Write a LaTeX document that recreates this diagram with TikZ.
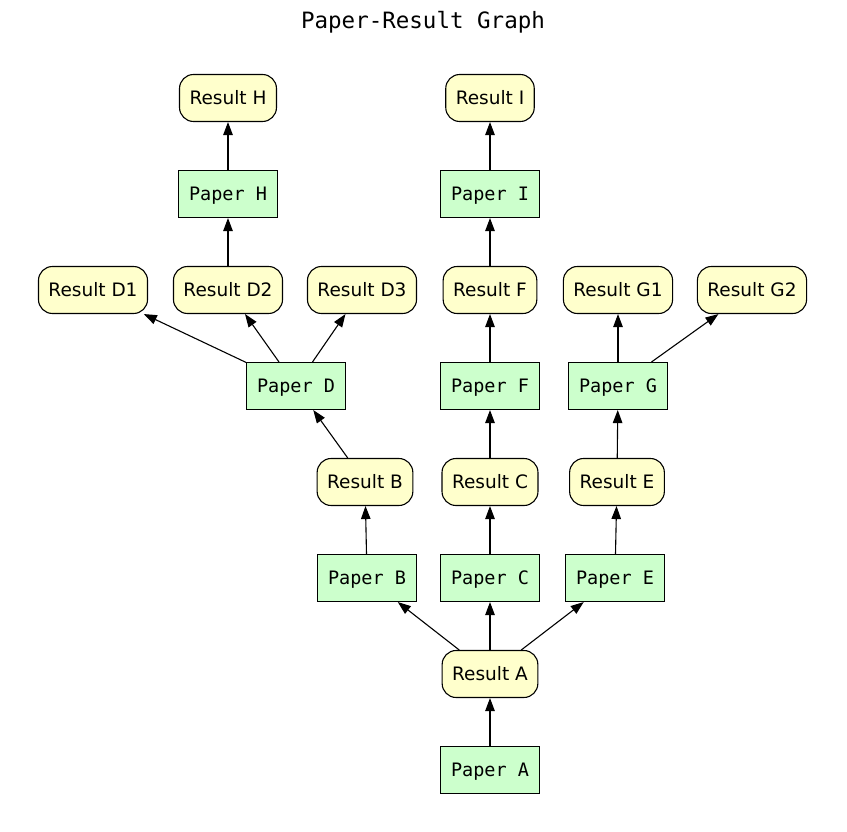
\documentclass[tikz,border=0pt]{standalone}
\usepackage{fontspec}
\setmainfont{DejaVu Sans}
\setmonofont{DejaVu Sans Mono}
\usetikzlibrary{arrows.meta}
\definecolor{resultfill}{HTML}{FFFFCC}
\definecolor{paperfill}{HTML}{CCFFCC}

\begin{document}
\begin{tikzpicture}[x=1pt,y=-1pt,
    result/.style={draw, line width=1.1pt, fill=resultfill, rounded corners=14pt, minimum height=47pt, inner xsep=10pt, font=\fontsize{18.5}{20}\selectfont},
    paper/.style={draw, line width=1.1pt, fill=paperfill, minimum height=47pt, minimum width=99pt, inner xsep=10pt, text depth=0pt, font=\ttfamily\fontsize{18.5}{20}\selectfont},
    link/.style={-{Triangle[length=13pt,width=9.5pt]}, line width=1.1pt}]
            \useasboundingbox (0,0) rectangle (847,832);
            \node[font=\ttfamily\fontsize{22.5}{24}\selectfont] (title) at (423,22) {Paper-Result Graph};
            % results
            \node[result] (rH) at (228,98) {Result H};
            \node[result] (rI) at (490,98) {Result I};
            \node[result] (rD1) at (93,290) {Result D1};
            \node[result] (rD2) at (228,290) {Result D2};
            \node[result] (rD3) at (362,290) {Result D3};
            \node[result] (rF) at (490,290) {Result F};
            \node[result] (rG1) at (618,290) {Result G1};
            \node[result] (rG2) at (752,290) {Result G2};
            \node[result] (rB) at (365,482) {Result B};
            \node[result] (rC) at (490,482) {Result C};
            \node[result] (rE) at (617,482) {Result E};
            \node[result] (rA) at (490,674) {Result A};
            % papers
            \node[paper] (pH) at (228,194) {Paper H};
            \node[paper] (pI) at (490,194) {Paper I};
            \node[paper] (pD) at (296,386) {Paper D};
            \node[paper] (pF) at (490,386) {Paper F};
            \node[paper] (pG) at (618,386) {Paper G};
            \node[paper] (pB) at (367,578) {Paper B};
            \node[paper] (pC) at (490,578) {Paper C};
            \node[paper] (pE) at (615,578) {Paper E};
            \node[paper] (pA) at (490,770) {Paper A};
            % links
            \foreach \a/\b in {pA/rA, rA/pB, rA/pC, rA/pE, pB/rB, pC/rC, pE/rE,
                rB/pD, rC/pF, rE/pG, pD/rD1, pD/rD2, pD/rD3, pF/rF, pG/rG1, pG/rG2,
                rD2/pH, rF/pI, pH/rH, pI/rI} {
                \draw[link] (\a) -- (\b);
            }
        \end{tikzpicture}
\end{document}
